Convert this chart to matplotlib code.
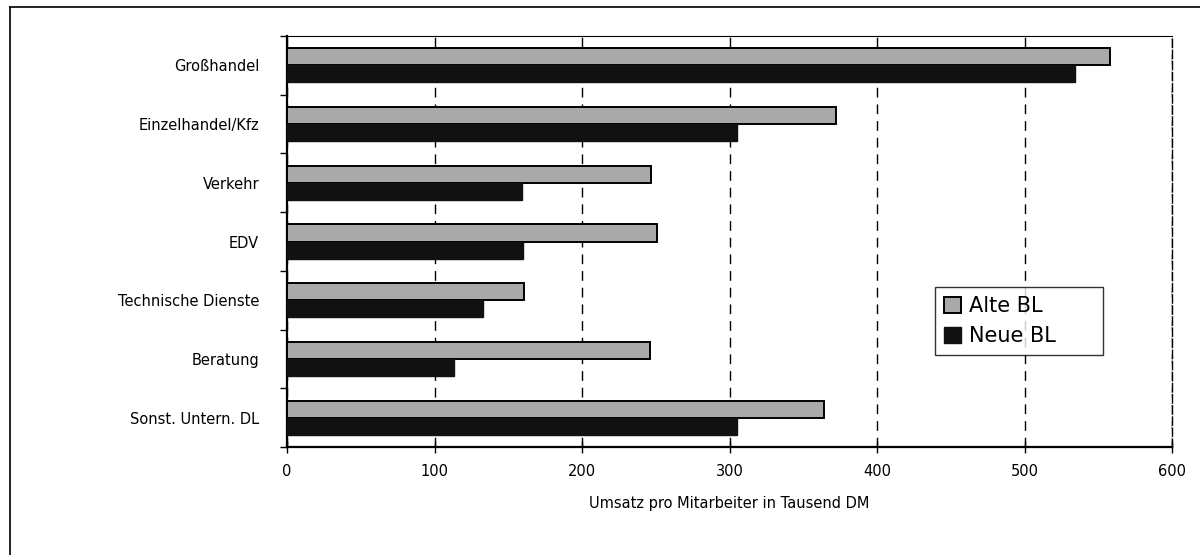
import numpy as np
import matplotlib
matplotlib.use("Agg")
from matplotlib import pyplot as plt
from matplotlib.lines import Line2D

# Umsatz pro Mitarbeiter in Tausend DM, nach Branche
branchen = ['Großhandel', 'Einzelhandel/Kfz', 'Verkehr', 'EDV',
            'Technische Dienste', 'Beratung', 'Sonst. Untern. DL']
alte_bl = [558, 372, 247, 251, 161, 246, 364]
neue_bl = [534, 305, 159, 160, 133, 113, 305]
x_ticks = [0, 100, 200, 300, 400, 500, 600]

plt.rcParams['font.family'] = ['DejaVu Sans']

fig = plt.figure(figsize=(12, 5.55), dpi=100)
ax = fig.add_axes([287/1200, 1-447/555, 885/1200, 411/555])

y = np.arange(len(branchen))
h = 0.29
ax.barh(y - h/2, alte_bl, height=h, color='#a9a9a9', edgecolor='black',
        linewidth=1.4, label='Alte BL', zorder=3)
ax.barh(y + h/2, neue_bl, height=h, color='#111111', edgecolor='#111111',
        linewidth=1, label='Neue BL', zorder=3)

ax.set_xlim(0, 600)
ax.set_ylim(6.5, -0.5)
ax.set_xticks(x_ticks)
ax.set_xticklabels([str(v) for v in x_ticks], size=10.5)
ax.tick_params(axis='x', direction='inout', length=9, width=1, pad=8)

# category labels in the middle, ticks on the boundaries
ax.set_yticks(np.arange(-0.5, 7, 1))
ax.set_yticklabels([])
ax.tick_params(axis='y', direction='out', length=5, width=1)
ax.set_yticks(y, minor=True)
ax.set_yticklabels(branchen, minor=True, size=10.5)
ax.tick_params(axis='y', which='minor', length=0, pad=20)

ax.xaxis.grid(True, linestyle=(0, (7, 5)), color='black', linewidth=1, zorder=0)
ax.set_axisbelow(True)

ax.spines['left'].set_linewidth(1.6)
ax.spines['bottom'].set_linewidth(1.6)
ax.spines['top'].set_linewidth(0.8)
ax.spines['right'].set_linewidth(1)
ax.spines['right'].set_linestyle((0, (6, 2)))

ax.set_xlabel('Umsatz pro Mitarbeiter in Tausend DM', size=10.5, labelpad=12)

leg = ax.legend(loc='upper left', bbox_to_anchor=(0.732, 0.209, 0.19, 0.18),
                mode='expand', fontsize=15,
                frameon=True, fancybox=False, edgecolor='black',
                handlelength=0.8, handleheight=0.8, handletextpad=0.4,
                borderpad=0.45, labelspacing=0.45, borderaxespad=0)
leg.get_frame().set_linewidth(1)

# outer frame of the scanned page
fig.add_artist(Line2D([10/1200, 10/1200], [0, 1-7/555], color='black', lw=1.2))
fig.add_artist(Line2D([10/1200, 1], [1-7/555, 1-7/555], color='black', lw=1.2))

plt.savefig('out.png', dpi=100)
plt.close()
